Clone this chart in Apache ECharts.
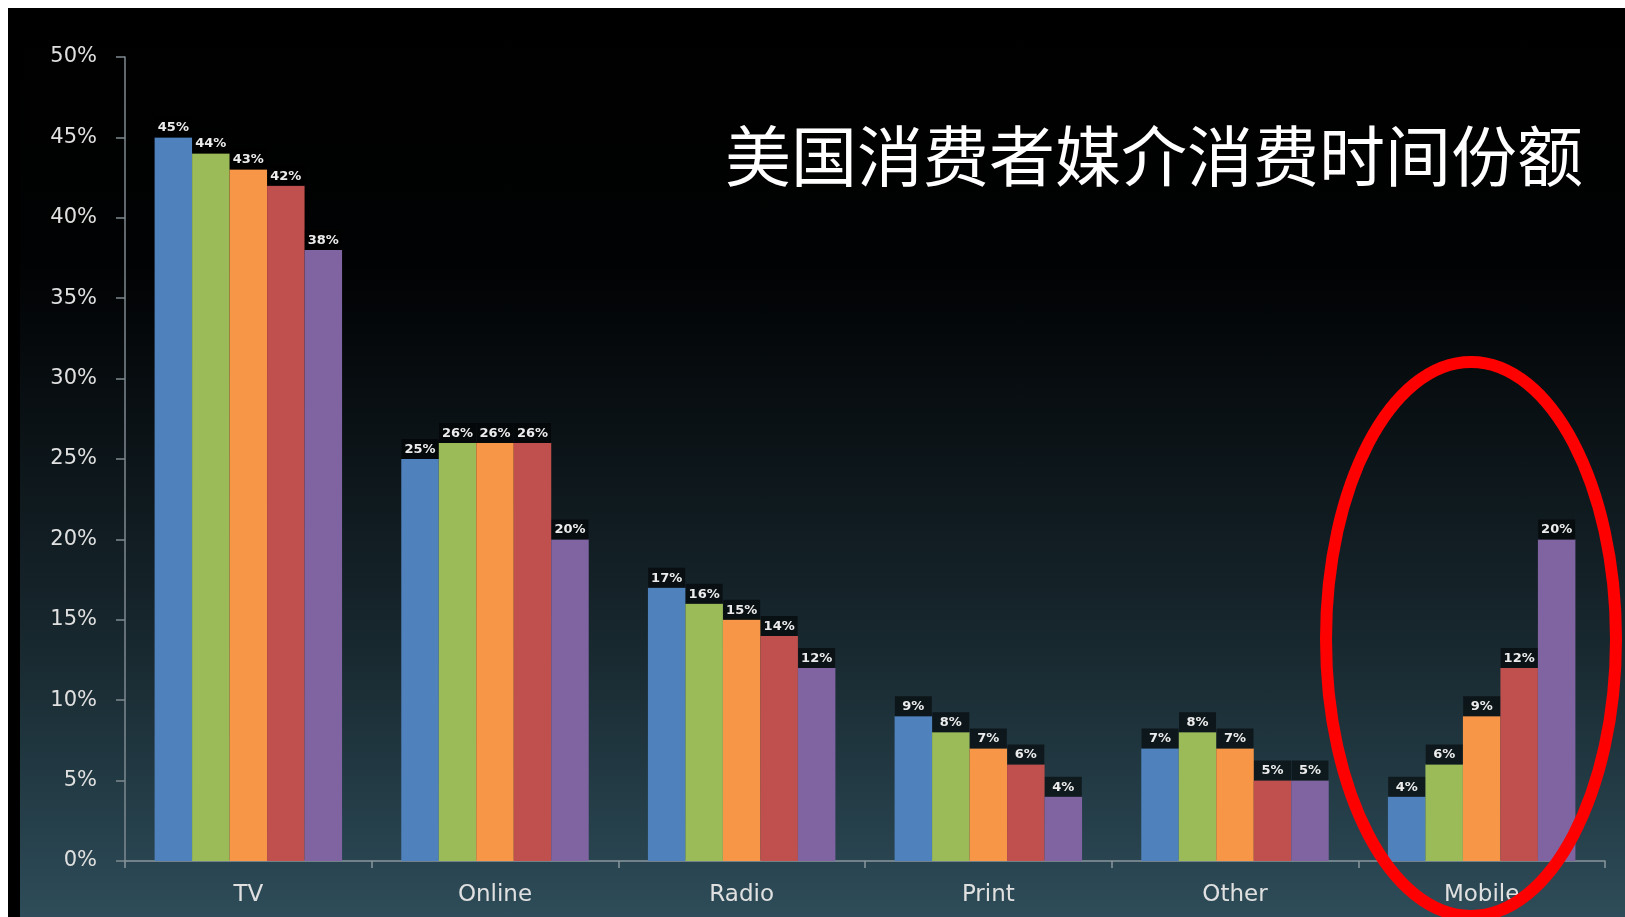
<!DOCTYPE html>
<html>
<head>
<meta charset="utf-8">
<title>美国消费者媒介消费时间份额</title>
<script src="https://cdn.jsdelivr.net/npm/echarts@6/dist/echarts.min.js"></script>
<style>
  html, body { margin: 0; padding: 0; background: #ffffff; width: 1625px; height: 917px; overflow: hidden; }
  #frame { position: absolute; left: 8px; top: 8px; right: 0; bottom: 0; background: #000; }
  #stage {
    position: absolute; left: 20px; top: 8px; right: 0; bottom: 0;
    background: linear-gradient(to bottom, #000000 0%, #010203 28%, #070c0f 40%, #0f1a1f 55%, #18282f 70%, #223a44 85%, #2e4c59 100%);
  }
  #chart { position: absolute; left: 0; top: 0; width: 1625px; height: 917px; }
</style>
</head>
<body>
<div id="frame"></div>
<div id="stage"></div>
<div id="chart"></div>
<script>
// Media categories along the x axis
const categories = ['TV', 'Online', 'Radio', 'Print', 'Other', 'Mobile'];

// Share of time per category (%), one array per series
const series1 = [45, 25, 17, 9, 7, 4];
const series2 = [44, 26, 16, 8, 8, 6];
const series3 = [43, 26, 15, 7, 7, 9];
const series4 = [42, 26, 14, 6, 5, 12];
const series5 = [38, 20, 12, 4, 5, 20];

const seriesNames = ['系列1', '系列2', '系列3', '系列4', '系列5'];
const seriesColors = ['#4F81BD', '#9BBB59', '#F79646', '#C0504D', '#8064A2'];

// Y axis scale (%)
const yMin = 0;
const yMax = 50;
const yStep = 5;

const titleText = '美国消费者媒介消费时间份额';

const chart = echarts.init(document.getElementById('chart'), null, { renderer: 'canvas' });

const valueLabel = {
  show: true,
  position: 'top',
  distance: 0,
  formatter: '{c}%',
  color: '#ececec',
  fontFamily: 'DejaVu Sans',
  fontWeight: 'bold',
  fontSize: 13,
  width: 37,
  align: 'center',
  lineHeight: 15,
  padding: [3, 0, 2, 0],
  backgroundColor: 'rgba(0,0,0,0.55)'
};

const seriesData = [series1, series2, series3, series4, series5];

chart.setOption({
  backgroundColor: 'transparent',
  animation: false,
  title: {
    text: titleText,
    left: 720,
    top: 118,
    textStyle: {
      color: '#ffffff',
      fontFamily: 'Noto Sans CJK SC',
      fontWeight: 'normal',
      fontSize: 66
    }
  },
  grid: { left: 125, right: 20, top: 57, bottom: 56, containLabel: false },
  xAxis: {
    type: 'category',
    data: categories,
    axisLine: { show: true, lineStyle: { color: '#8a979d', width: 1.5 } },
    axisTick: { show: true, alignWithLabel: false, length: 7, lineStyle: { color: '#8a979d', width: 1.5 } },
    axisLabel: { color: '#e0e0e0', fontFamily: 'DejaVu Sans', fontSize: 23, margin: 23 },
    splitLine: { show: false }
  },
  yAxis: {
    type: 'value',
    min: yMin,
    max: yMax,
    interval: yStep,
    axisLine: { show: true, lineStyle: { color: '#7f8a90', width: 1.5 } },
    axisTick: { show: true, length: 9, lineStyle: { color: '#7f8a90', width: 1.5 } },
    axisLabel: { color: '#e0e0e0', fontFamily: 'DejaVu Sans', fontSize: 21, margin: 28, formatter: '{value}%' },
    splitLine: { show: false }
  },
  series: seriesData.map((d, i) => ({
    name: seriesNames[i],
    type: 'bar',
    data: d,
    barGap: '0%',
    barCategoryGap: '24%',
    itemStyle: { color: seriesColors[i] },
    label: valueLabel
  })),
  graphic: [
    {
      type: 'ellipse',
      z: 100,
      shape: { cx: 1471, cy: 639, rx: 145, ry: 277 },
      style: { fill: 'none', stroke: '#ff0000', lineWidth: 12 }
    }
  ]
});
</script>
</body>
</html>
